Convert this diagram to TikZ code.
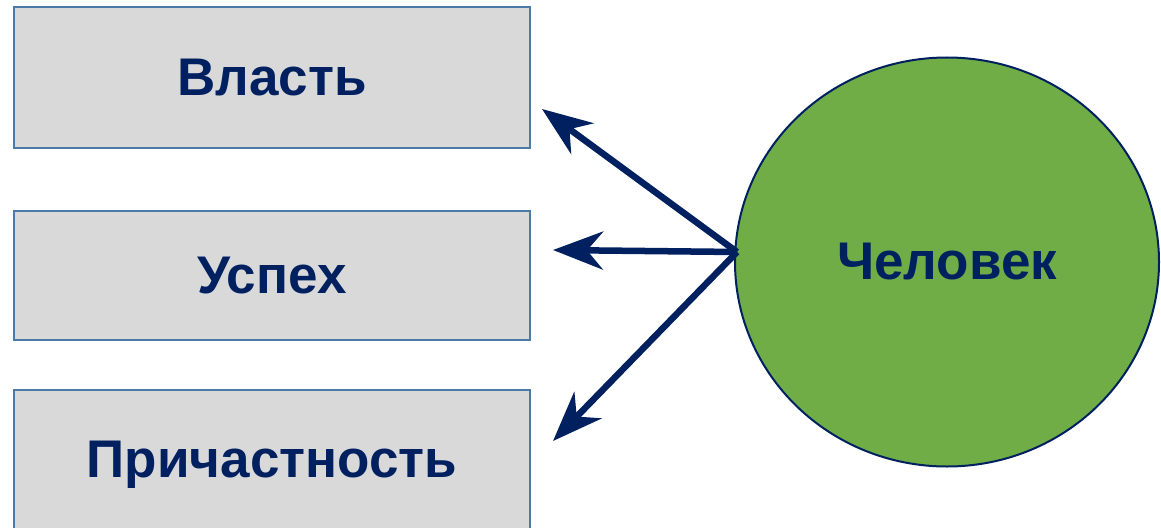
\documentclass[tikz,border=0pt]{standalone}
\usepackage{fontspec}
\setmainfont{Liberation Sans}
\usetikzlibrary{arrows.meta,shapes.geometric}

\definecolor{navy}{HTML}{002060}
\definecolor{leaf}{HTML}{70AD47}
\definecolor{boxgray}{HTML}{D9D9D9}
\definecolor{boxedge}{HTML}{4A7AA6}

\begin{document}
\begin{tikzpicture}[x=1pt,y=-1pt,
    box/.style={draw=boxedge,line width=2pt,fill=boxgray,minimum width=516pt,
        text=navy,font=\fontsize{53}{58}\selectfont\bfseries},
    person/.style={ellipse,draw=navy,line width=2pt,fill=leaf,minimum width=424pt,
        minimum height=409pt,text=navy,font=\fontsize{53}{58}\selectfont\bfseries},
    link/.style={draw=navy,line width=6.5pt,-{Stealth[length=50pt,width=38pt,inset=16pt]}}
]
    \useasboundingbox (0,0) rectangle (1161,527);
    \clip (0,0) rectangle (1161,527);

    \node [box,minimum height=141pt] (vlast) at (272,77.5) {Власть};
    \node [box,minimum height=129pt] (uspeh) at (272,275.5) {Успех};
    \node [box,minimum height=150pt] (prich) at (272,465) {Причастность};

    \node [person] (man) at (947,262) {Человек};

    \coordinate (hub) at (737,252);
    \coordinate (tipa) at (542,109);
    \coordinate (tipb) at (553,250);
    \coordinate (tipc) at (553,441);

    \draw [link] (hub) -- (tipa);
    \draw [link] (hub) -- (tipb);
    \draw [link] (hub) -- (tipc);

\end{tikzpicture}
\end{document}
